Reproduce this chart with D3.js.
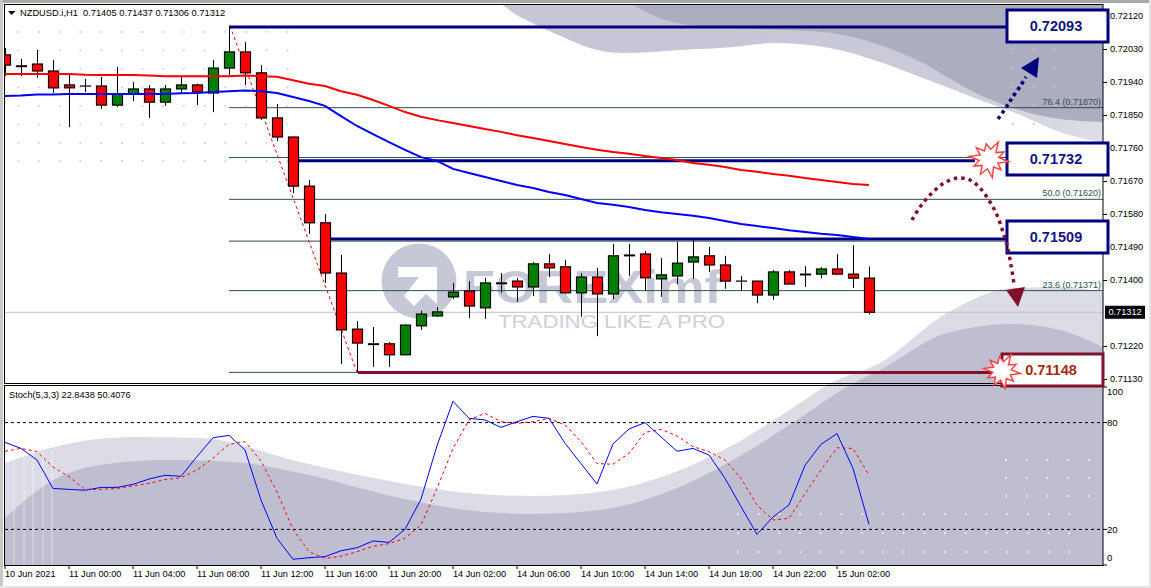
<!DOCTYPE html>
<html><head><meta charset="utf-8">
<style>html,body{margin:0;padding:0;background:#fff;overflow:hidden}svg{display:block}text{font-family:"Liberation Sans",Arial,sans-serif}</style>
<script src="https://cdn.jsdelivr.net/npm/d3@7/dist/d3.min.js"></script>
</head><body><svg id="c" width="1151" height="588"></svg>
<script>
const opens=[.72014,.71984,.71989,.71970,.71932,.71929,.71929,.71877,.71907,.71921,.71885,.71921,.71932,.71910,.71978,.72022,.71965,.71842,.71790,.71656,.71556,.71419,.71266,.71226,.71226,.71196,.71275,.71302,.71354,.71370,.71324,.71392,.71397,.71381,.71444,.71436,.71365,.71408,.71362,.71468,.71471,.71403,.71411,.71449,.71466,.71441,.71397,.71397,.71359,.71422,.71416,.71416,.71430,.71416,.71405];
const highs=[.72033,.72003,.72027,.72000,.71959,.71948,.71954,.71981,.71940,.71932,.71932,.71954,.71935,.72000,.72090,.72049,.71986,.71880,.71790,.71673,.71580,.71468,.71288,.71272,.71231,.71280,.71316,.71326,.71392,.71397,.71406,.71419,.71406,.71449,.71471,.71455,.71419,.71433,.71498,.71498,.71479,.71460,.71504,.71509,.71490,.71466,.71411,.71397,.71427,.71427,.71438,.71436,.71471,.71495,.71437];
const lows=[.71956,.71956,.71951,.71910,.71817,.71913,.71866,.71872,.71888,.71842,.71875,.71910,.71877,.71858,.71959,.71932,.71836,.71779,.71637,.71526,.71392,.71171,.71149,.71163,.71163,.71196,.71264,.71299,.71348,.71296,.71294,.71365,.71340,.71356,.71408,.71362,.71299,.71247,.71348,.71411,.71370,.71354,.71389,.71403,.71422,.71376,.71370,.71337,.71346,.71389,.71381,.71405,.71416,.71378,.71306];
const closes=[.71986,.71982,.71970,.71924,.71924,.71929,.71877,.71907,.71921,.71885,.71921,.71932,.71913,.71978,.72022,.71965,.71842,.71790,.71656,.71556,.71419,.71264,.71228,.71224,.71196,.71277,.71307,.71313,.71367,.71329,.71392,.71390,.71381,.71444,.71433,.71365,.71408,.71362,.71466,.71466,.71406,.71414,.71446,.71463,.71441,.71397,.71397,.71359,.71422,.71389,.71414,.71430,.71416,.71405,.71312];
const maSlow=[.71962,.71962,.71962,.71962,.71962,.71960,.71959,.71959,.71959,.71958,.71956,.71956,.71956,.71956,.71956,.71958,.71956,.71954,.71945,.71935,.71929,.71915,.71905,.71891,.71875,.71858,.71845,.71836,.71828,.71820,.71812,.71804,.71795,.71787,.71779,.71771,.71763,.71755,.71749,.71744,.71738,.71733,.71727,.71719,.71714,.71708,.71700,.71695,.71689,.71684,.71678,.71673,.71667,.71662,.71659];
const maFast=[.71902,.71903,.71906,.71906,.71907,.71907,.71907,.71907,.71907,.71907,.71907,.71909,.71910,.71913,.71915,.71917,.71915,.71910,.71899,.71888,.71875,.71847,.71820,.71798,.71776,.71755,.71735,.71725,.71703,.71692,.71681,.71670,.71659,.71651,.71640,.71632,.71621,.71610,.71605,.71599,.71591,.71585,.71580,.71575,.71569,.71561,.71553,.71547,.71542,.71536,.71531,.71526,.71523,.71517,.71512];
const stochMain=[68.9,65.5,59,43,42.5,42,43.6,43.6,45.3,48.3,50.4,49.8,60.9,71.5,72.8,64.6,36.5,15,3.2,4.1,4.7,8,9.7,13.5,12.7,20,37,67,92,82.4,81.5,77.3,80.5,83.5,82.4,68.4,57,45.5,68,76.4,80,72,63.9,65.5,61.8,48.7,32.8,17.2,27,33.7,56,67.8,73.8,54.3,22.84];
const stochSignal=[63.9,65.5,63.7,55,49.6,42.5,42.5,43,44.4,45.9,48,49,53.4,60,67.8,69.3,58.4,41,20,7.5,3.7,4.9,7.5,10.5,12,15,22.5,43,65.5,81.5,85.2,80.5,79.6,80.5,82.4,78.7,69.3,57,56.6,62.7,74.5,76.2,72.5,66.5,63.7,59,48.7,33.7,25.3,26.2,40,53.4,65.9,65.5,50.41];
const priceTicks=[.7212,.7203,.7194,.7185,.7176,.7167,.7158,.7149,.714,.7122,.7113];
const stochTicks=[100,80,20,0];
const stochLevels=[80,20];
const timeLabels=["10 Jun 2021","11 Jun 00:00","11 Jun 04:00","11 Jun 08:00","11 Jun 12:00","11 Jun 16:00","11 Jun 20:00","14 Jun 02:00","14 Jun 06:00","14 Jun 10:00","14 Jun 14:00","14 Jun 18:00","14 Jun 22:00","15 Jun 02:00"];
const fibLevels=[76.4,61.8,50,38.2,23.6,0];
const fibPrices=[.7187,.71734,.7162,.71506,.71371,.71148];
const fibShown=[76.4,50,23.6];
const keyLabels=[.72093,.71732,.71509,.71148];
const keyLines=[.72090,.71725,.71512,.71148];
const lastPrice=.71312;

const svg=d3.select("#c");
const x=d3.scaleLinear().domain([0,54]).range([5,869]);
const y=d3.scaleLinear().domain([.7113,.7212]).range([379,16]);
const ys=d3.scaleLinear().domain([0,100]).range([565,387]);
const NAVY="#00007f",MAROON="#80102c";
const fmt=d3.format(".5f");

svg.append("rect").attr("width",1151).attr("height",588).attr("fill","#fff");
const defs=svg.append("defs");
defs.append("clipPath").attr("id","pane").append("rect").attr("x",5).attr("y",5).attr("width",1098).attr("height",560);
const g=defs.append("linearGradient").attr("id","topLight").attr("gradientUnits","userSpaceOnUse").attr("x1",700).attr("x2",1103).attr("y1",0).attr("y2",0);
g.append("stop").attr("offset",0).attr("stop-color","#c6c6d6");
g.append("stop").attr("offset",.6).attr("stop-color","#cbcbda");
g.append("stop").attr("offset",1).attr("stop-color","#dedee8");

// watermark background (decoration, in pixels)
const bg=svg.append("g").attr("clip-path","url(#pane)");
const curve=d3.line().curve(d3.curveMonotoneX);
const topLight=[[500,3],[515,14],[530,22],[563,37],[590,48],[623,53],[680,50],[733,47],[773,43],[830,48],[880,62],[923,78],[980,100],[1013,112],[1063,133],[1103,143]];
const topDark=[[630,3],[657,17],[697,26],[757,29],[823,32],[880,45],[923,63],[947,77],[980,95],[1013,108],[1053,118],[1103,122]];
const botLight=[[5,463],[50,448],[133,437],[200,438],[300,462],[400,483],[467,493],[533,496],[600,492],[667,475],[733,445],[800,403],[827,385],[880,363],[947,313],[1013,288],[1060,287],[1103,292]];
const botDark=[[5,518],[50,482],[100,465],[167,460],[233,462],[300,473],[400,498],[467,510],[533,514],[600,510],[667,492],[733,460],[800,418],[850,385],[880,370],[947,333],[1013,324],[1060,330],[1103,347]];
bg.append("path").attr("d",curve(topLight)+"L1103,3Z").attr("fill","url(#topLight)");
bg.append("path").attr("d",curve(topDark)+"L1103,3Z").attr("fill","#adadc0");
bg.append("path").attr("d",curve(botLight)+"L1103,566L5,566Z").attr("fill","#dcdce6");
bg.append("path").attr("d",curve(botDark)+"L1103,566L5,566Z").attr("fill","#bfbed0");
[14,24,33,43,52].forEach(v=>bg.append("line").attr("x1",v).attr("x2",v).attr("y1",452).attr("y2",565).attr("stroke","#fff").attr("stroke-opacity",.45));
// dots
function dots(x0,n,ysList,col){for(const yy of ysList)for(let k=0;k<n;k++)bg.append("circle").attr("cx",x0+k*20.7).attr("cy",yy).attr("r",1).attr("fill",col);}
dots(18.3,14,[32,50.5,69,87.5,106,124.5,143,161],"#cfcfd6");
dots(1013,3,[49,68,87,105,124,142],"#c6c6d0");
dots(738,17,[514,533,552],"#f4f4f8");
dots(1006,5,[460,478,496],"#f4f4f8");
// logo
const logo=bg.append("g").attr("fill","#c6c7d7");
logo.append("circle").attr("cx",419).attr("cy",281).attr("r",37.5);
logo.append("path").attr("fill","#fff").attr("d","M398,267L437,267L437,304L426,294L414,306L404,296L419,277L398,277Z");
logo.append("text").attr("x",463).attr("y",303).attr("font-size",46).attr("font-weight","700").attr("textLength",259).attr("lengthAdjust","spacingAndGlyphs").text("FOREXimf");
logo.append("text").attr("x",498).attr("y",328).attr("font-size",17.5).attr("fill","#cfd0dd").attr("textLength",227).attr("lengthAdjust","spacingAndGlyphs").text("TRADING LIKE A PRO");

// fib lines
const fibG=svg.append("g");
fibPrices.forEach(p=>fibG.append("line").attr("x1",229).attr("x2",1103).attr("y1",y(p)).attr("y2",y(p)).attr("stroke","#2f4f4f").attr("stroke-width",1));
fibShown.forEach(l=>{const p=fibPrices[fibLevels.indexOf(l)];
 fibG.append("text").attr("x",1101).attr("y",y(p)-3).attr("text-anchor","end").attr("font-size",9).attr("fill","#2f4f4f").text(l.toFixed(1)+" ("+fmt(p)+")");});
// current price line
svg.append("line").attr("x1",5).attr("x2",1103).attr("y1",y(lastPrice)).attr("y2",y(lastPrice)).attr("stroke","#c0c0c0");
// fib trend
svg.append("line").attr("x1",x(14)+1).attr("y1",y(.72093)).attr("x2",x(22)).attr("y2",y(.71148)).attr("stroke","#f00").attr("stroke-dasharray","3 3");

// key levels
const levelStart=[x(14),x(18)+6,x(20)-3,x(22)+1],levelEnd=[1007,975,1007,1002],levelCol=[NAVY,NAVY,NAVY,MAROON];
keyLines.forEach((p,i)=>svg.append("line").attr("x1",levelStart[i]).attr("x2",levelEnd[i]).attr("y1",y(p)).attr("y2",y(p)).attr("stroke",levelCol[i]).attr("stroke-width",3));

// candles
const col=i=>closes[i]<opens[i]?"#f00":closes[i]>opens[i]?"#008000":"#000";
const cg=svg.append("g").attr("clip-path","url(#pane)");
cg.selectAll(".w").data(d3.range(55)).join("line").attr("x1",i=>x(i)+.5).attr("x2",i=>x(i)+.5).attr("y1",i=>y(highs[i])).attr("y2",i=>y(lows[i])).attr("stroke","#000");
cg.selectAll(".b").data(d3.range(55)).join("rect").attr("x",i=>x(i)-4.5).attr("width",10)
 .attr("y",i=>y(Math.max(opens[i],closes[i]))).attr("height",i=>Math.max(0.01,Math.abs(y(opens[i])-y(closes[i]))))
 .attr("fill",col).attr("stroke","#000").attr("stroke-width",1.2);

// moving averages
const ln=d3.line().x((d,i)=>x(i)).y(d=>y(d));
svg.append("path").attr("clip-path","url(#pane)").attr("d",ln(maSlow)).attr("fill","none").attr("stroke","#f00").attr("stroke-width",2);
svg.append("path").attr("clip-path","url(#pane)").attr("d",ln(maFast)).attr("fill","none").attr("stroke","#00f").attr("stroke-width",2);

// stoch
stochLevels.forEach(v=>svg.append("line").attr("x1",5).attr("x2",1103).attr("y1",ys(v)).attr("y2",ys(v)).attr("stroke","#000").attr("stroke-dasharray","3 3"));
const ls=d3.line().x((d,i)=>x(i)).y(d=>ys(d));
svg.append("path").attr("d",ls(stochSignal)).attr("fill","none").attr("stroke","#f00").attr("stroke-dasharray","3 3");
svg.append("path").attr("d",ls(stochMain)).attr("fill","none").attr("stroke","#00f");

// frames
svg.append("rect").attr("x",0).attr("y",0).attr("width",1151).attr("height",3).attr("fill","#a8a8a8");
svg.append("rect").attr("x",0).attr("y",0).attr("width",3).attr("height",588).attr("fill","#c8c8c8");
svg.append("rect").attr("x",0).attr("y",586).attr("width",1151).attr("height",2).attr("fill","#e4e4e4");
svg.append("rect").attr("x",1149).attr("y",0).attr("width",2).attr("height",588).attr("fill","#e4e4e4");
const fr=svg.append("g").attr("fill","none").attr("stroke","#000");
fr.append("rect").attr("x",4.5).attr("y",4.5).attr("width",1098.5).attr("height",379);
fr.append("rect").attr("x",4.5).attr("y",385.5).attr("width",1098.5).attr("height",180);

// axes
const paxis=svg.append("g").attr("transform","translate(1103,0)").call(d3.axisRight(y).tickValues(priceTicks).tickFormat(fmt).tickSize(4).tickPadding(3));
paxis.select(".domain").remove();
paxis.selectAll("text").attr("font-size",9.2).attr("font-family","Liberation Sans").attr("fill","#000");
const saxis=svg.append("g");
stochTicks.forEach(v=>{saxis.append("line").attr("x1",1103).attr("x2",1107).attr("y1",ys(v)).attr("y2",ys(v)).attr("stroke","#000");
 saxis.append("text").attr("x",1107).attr("y",Math.min(558,Math.max(392,ys(v)))).attr("dy","0.35em").attr("font-size",9.6).text(v);});
timeLabels.forEach((t,k)=>{const px=x(k*4);
 svg.append("line").attr("x1",px).attr("x2",px).attr("y1",565).attr("y2",569).attr("stroke","#000");
 svg.append("text").attr("x",px).attr("y",577).attr("font-size",9.2).text(t);});

// last price tag
const ly=y(lastPrice);
svg.append("rect").attr("x",1105).attr("y",ly-6.5).attr("width",40).attr("height",13).attr("fill","#000");
svg.append("text").attr("x",1125).attr("y",ly).attr("dy","0.35em").attr("text-anchor","middle").attr("font-size",9.2).attr("fill","#fff").text(fmt(lastPrice));

// titles
svg.append("path").attr("d","M8,11L15.5,11L11.7,15Z").attr("fill","#000");
svg.append("text").attr("x",20).attr("y",16).attr("font-size",9.3).attr("xml:space","preserve").text("NZDUSD.i,H1  0.71405 0.71437 0.71306 0.71312");
svg.append("text").attr("x",9).attr("y",398).attr("font-size",9.2).text("Stoch(5,3,3) 22.8438 50.4076");

// dotted arrows (annotations)
const cv=d3.line().curve(d3.curveCatmullRom);
svg.append("path").attr("d",cv([[998,119],[1007,106],[1012,98],[1021,85],[1026,77]])).attr("fill","none").attr("stroke",NAVY).attr("stroke-width",3.5).attr("stroke-dasharray","3.5 3.5");
svg.append("path").attr("d","M1039,57L1021,68L1037,78Z").attr("fill",NAVY);
// boxes
const boxX=[1007,1007,1007,1002],boxY=[10,143,221,354],boxCol=[NAVY,NAVY,NAVY,MAROON],txtCol=[ "#14147f","#14147f","#14147f","#a52a0a"];
keyLabels.forEach((p,i)=>{
 svg.append("rect").attr("x",boxX[i]).attr("y",boxY[i]).attr("width",101).attr("height",32).attr("fill","#fff").attr("stroke",boxCol[i]).attr("stroke-width",3);
 svg.append("text").attr("x",boxX[i]+(i==3?49:49)).attr("y",boxY[i]+16).attr("dy","0.36em").attr("text-anchor","middle").attr("font-size",14.5).attr("font-weight","700").attr("fill",txtCol[i]).text(fmt(p));
});
svg.append("path").attr("d",cv([[912,220],[920,207],[931,194],[944,183],[958,178],[970,180],[980,188],[990,202],[997,215],[1003,232],[1007,245],[1011,265],[1014,284]])).attr("fill","none").attr("stroke",MAROON).attr("stroke-width",3.5).attr("stroke-dasharray","3.5 4");
svg.append("path").attr("d","M1006,290L1025,287L1018,307Z").attr("fill",MAROON);
// bursts
const burstR=[1,.5,.85,.5,1.05,.55,.95,.5,.85,.5,1,.5,.9,.5,.85,.55,1.05,.5,.85,.5];
function burst(cx,cy,r){const a=burstR.map((k,i)=>{const t=i/burstR.length*2*Math.PI+.15;return [cx+Math.cos(t)*r*k*1.1,cy+Math.sin(t)*r*k];});
 svg.append("path").attr("d",d3.line()(a)+"Z").attr("fill","#fff").attr("stroke","#ff4545").attr("stroke-width",1.5);}
burst(989,159,18);
burst(1002,371,17);
</script></body></html>
